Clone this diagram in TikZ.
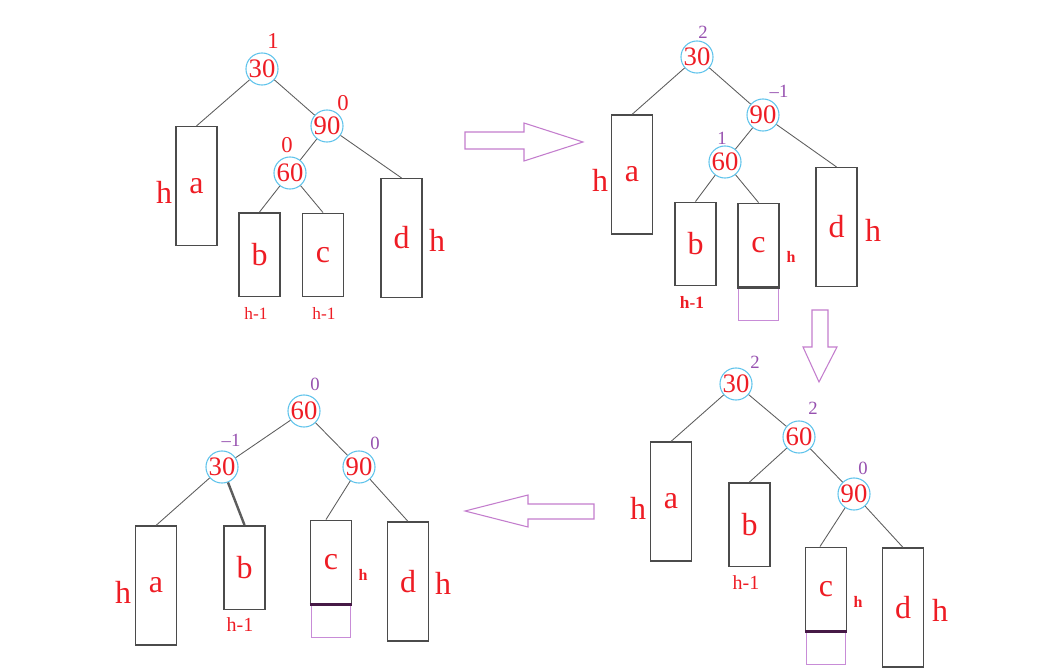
\documentclass[tikz,border=0pt]{standalone}
\usepackage{fontspec}
\setmainfont{Liberation Serif}
\definecolor{tred}{RGB}{238,28,36}
\definecolor{tpur}{RGB}{150,80,175}
\definecolor{tcir}{RGB}{95,195,235}
\definecolor{tbox}{RGB}{75,75,75}
\definecolor{tarr}{RGB}{195,125,205}
\definecolor{tpbox}{RGB}{200,140,215}
\definecolor{tdark}{RGB}{70,25,70}
\tikzset{
 keynode/.style={circle, draw=tcir, line width=0.8pt, minimum size=22.5pt, inner sep=0pt, text=tred, font=\fontsize{20}{20}\selectfont},
 subtree/.style={rectangle, draw=tbox, line width=1.1pt, minimum width=30.5pt, inner sep=0pt, text=tred, font=\fontsize{24}{24}\selectfont},
 tallbox/.style={minimum height=89pt},
 shortbox/.style={minimum height=62.6pt},
 extbox/.style={rectangle, draw=tpbox, line width=0.7pt, minimum width=29.6pt, minimum height=24.75pt, inner sep=0pt, anchor=north},
 link/.style={draw=tbox!90, line width=0.65pt},
 bigh/.style={text=tred, font=\fontsize{24}{24}\selectfont, inner sep=0pt},
 smallh/.style={text=tred, font=\bfseries\fontsize{12}{12}\selectfont, inner sep=0pt},
 hminus/.style={text=tred, font=\fontsize{13}{13}\selectfont, inner sep=0pt},
 bfpur/.style={text=tpur, font=\fontsize{14}{14}\selectfont, inner sep=0pt},
 bfred/.style={text=tred, font=\fontsize{17}{17}\selectfont, inner sep=0pt},
 arrowshape/.style={draw=tarr, line width=0.8pt, line join=miter},
 seamline/.style={draw=tdark, line width=1.6pt},
}
\begin{document}
\begin{tikzpicture}[x=0.75pt,y=-0.75pt]
\useasboundingbox (0,0) rectangle (1056,671);

% ---------- Tree 1 (top left) ----------
\node[keynode] (K30a) at (262,69) {30};
\node[keynode] (K90a) at (327,126) {90};
\node[keynode] (K60a) at (290,173) {60};
\node[subtree,tallbox] (A1) at (196.5,186) {a};
\node[subtree,shortbox] (B1) at (259.5,254.5) {b};
\node[subtree,shortbox] (C1) at (323,255) {c};
\node[subtree,tallbox] (D1) at (401.5,238) {d};
\draw[link] (K30a) -- (A1.north);
\draw[link] (K30a) -- (K90a);
\draw[link] (K90a) -- (K60a);
\draw[link] (K60a) -- (B1.north);
\draw[link] (K60a) -- (C1.north);
\draw[link] (K90a) -- (D1.north);
\node[bfred] (f1a) at (273,41) {1};
\node[bfred] (f2a) at (343,103) {0};
\node[bfred] (f3a) at (287,145) {0};
\node[bigh] (ha1) at (164,192) {h};
\node[bigh] (hd1) at (437,240) {h};
\node[hminus] (hb1) at (256,313) {h-1};
\node[hminus] (hc1) at (324,313) {h-1};

% ---------- Tree 2 (top right) ----------
\node[keynode] (K30b) at (697,57) {30};
\node[keynode] (K90b) at (763,115) {90};
\node[keynode] (K60b) at (725,162) {60};
\node[subtree,tallbox] (A2) at (632,174.5) {a};
\node[subtree,shortbox] (B2) at (695.5,244) {b};
\node[subtree,shortbox] (C2) at (758.5,245) {c};
\node[subtree,tallbox] (D2) at (836.5,227) {d};
\node[extbox] (E2) at (C2.south) {};
\draw[draw=tbox, line width=1.6pt] (C2.south west) -- (C2.south east);
\draw[link] (K30b) -- (A2.north);
\draw[link] (K30b) -- (K90b);
\draw[link] (K90b) -- (K60b);
\draw[link] (K60b) -- (B2.north);
\draw[link] (K60b) -- (C2.north);
\draw[link] (K90b) -- (D2.north);
\node[bfpur] (f1b) at (703,32) {2};
\node[bfpur] (f2b) at (779,91) {–1};
\node[bfpur] (f3b) at (722,138) {1};
\node[bigh] (ha2) at (600,180) {h};
\node[bigh] (hd2) at (873,230) {h};
\node[hminus, font=\bfseries\fontsize{13}{13}\selectfont] (hb2) at (692,302) {h-1};
\node[smallh] (hc2) at (791,257) {h};

% ---------- Tree 3 (bottom right) ----------
\node[keynode] (K30c) at (736,384) {30};
\node[keynode] (K60c) at (799,437) {60};
\node[keynode] (K90c) at (854,494) {90};
\node[subtree,tallbox] (A3) at (671,501.5) {a};
\node[subtree,shortbox] (B3) at (749.5,524.5) {b};
\node[subtree,shortbox] (C3) at (826,589) {c};
\node[subtree,tallbox] (D3) at (903,607.5) {d};
\node[extbox] (E3) at (C3.south) {};
\draw[seamline] (C3.south west) -- (C3.south east);
\draw[link] (K30c) -- (A3.north);
\draw[link] (K30c) -- (K60c);
\draw[link] (K60c) -- (B3.north);
\draw[link] (K60c) -- (K90c);
\draw[link] (K90c) -- ([xshift=-4.5pt]C3.north);
\draw[link] (K90c) -- (D3.north);
\node[bfpur] (f1c) at (755,362) {2};
\node[bfpur] (f2c) at (813,408) {2};
\node[bfpur] (f3c) at (863,468) {0};
\node[bigh] (ha3) at (638,508) {h};
\node[bigh] (hd3) at (940,610) {h};
\node[hminus, font=\fontsize{15}{15}\selectfont] (hb3) at (746,583) {h-1};
\node[smallh] (hc3) at (858,602) {h};

% ---------- Tree 4 (bottom left) ----------
\node[keynode] (K60d) at (304,411) {60};
\node[keynode] (K30d) at (222,467) {30};
\node[keynode] (K90d) at (359,467) {90};
\node[subtree,tallbox] (A4) at (156,585.5) {a};
\node[subtree,shortbox] (B4) at (244.5,567.5) {b};
\node[subtree,shortbox] (C4) at (331,562) {c};
\node[subtree,tallbox] (D4) at (408,581.5) {d};
\node[extbox] (E4) at (C4.south) {};
\draw[seamline] (C4.south west) -- (C4.south east);
\draw[link] (K60d) -- (K30d);
\draw[link] (K60d) -- (K90d);
\draw[link] (K30d) -- (A4.north);
\draw[link, line width=1.8pt] (K30d) -- (B4.north);
\draw[link] (K90d) -- ([xshift=-3.75pt]C4.north);
\draw[link] (K90d) -- (D4.north);
\node[bfpur] (f1d) at (315,384) {0};
\node[bfpur] (f2d) at (231,440) {–1};
\node[bfpur] (f3d) at (375,443) {0};
\node[bigh] (ha4) at (123,592) {h};
\node[bigh] (hd4) at (443,583) {h};
\node[hminus, font=\fontsize{15}{15}\selectfont] (hb4) at (240,625) {h-1};
\node[smallh] (hc4) at (363,575) {h};

% ---------- Transition arrows ----------
\draw[arrowshape] (465,132) -- (524,132) -- (524,123) -- (583,142) -- (524,161) -- (524,149) -- (465,149) -- cycle;
\draw[arrowshape] (812,310) -- (828,310) -- (828,347) -- (837,347) -- (819,382) -- (803,347) -- (812,347) -- cycle;
\draw[arrowshape] (594,504) -- (528,504) -- (528,495) -- (465,511) -- (528,527) -- (528,519) -- (594,519) -- cycle;
\end{tikzpicture}
\end{document}
